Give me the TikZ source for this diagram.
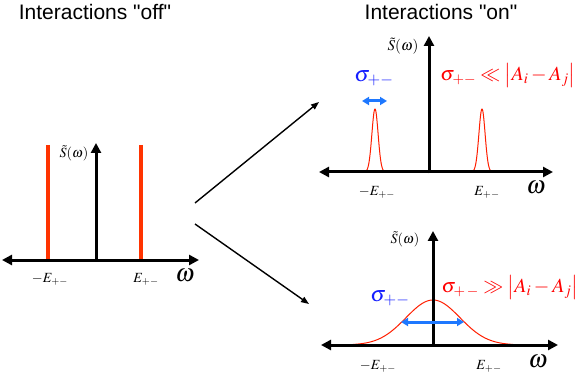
\documentclass[tikz,border=0pt]{standalone}
\usepackage{mathptmx}
\usepackage[no-math]{fontspec}
\newfontfamily\arial{Liberation Sans}
\usetikzlibrary{arrows.meta}
\definecolor{linered}{RGB}{255,51,0}
\definecolor{curvered}{RGB}{255,30,0}
\definecolor{txtblue}{RGB}{20,30,255}
\definecolor{arrblue}{RGB}{30,120,255}
\tikzset{
  every node/.style={inner sep=0pt},
  axis/.style={line width=3pt,-{Triangle[length=10pt,width=10pt]}},
  daxis/.style={line width=3pt,{Triangle[length=10pt,width=10pt]}-{Triangle[length=10pt,width=10pt]}},
  title/.style={font=\arial\fontsize{21}{24}\selectfont},
  lab/.style={font=\fontsize{14}{16}\selectfont},
  labm/.style={font=\fontsize{15}{17}\selectfont},
  omeg/.style={font=\fontsize{25}{28}\selectfont},
  sig/.style={font=\fontsize{22}{24}\selectfont,text=txtblue},
  rel/.style={font=\fontsize{20}{23}\selectfont,text=red},
  flow/.style={line width=1.4pt,-{Triangle[length=8pt,width=6pt]}},
  width/.style={line width=3pt,arrblue,{Triangle[length=7pt,width=8pt]}-{Triangle[length=7pt,width=8pt]}},
  spike/.style={line width=3.5pt,linered},
  curve/.style={line width=1pt,curvered}
}
\begin{document}
\begin{tikzpicture}[x=1pt,y=-1pt]
\useasboundingbox (0,0) rectangle (581,374);
% titles
\node[title] (t1) at (95,12) {Interactions "off"};
\node[title] (t2) at (441,12) {Interactions "on"};
% ---------- left panel
\coordinate (la) at (2,260);
\coordinate (lb) at (199,260);
\coordinate (lo) at (96,261.5);
\coordinate (lt) at (96,143);
\draw[spike] (48,145) -- (48,260);
\draw[spike] (141,145) -- (141,260);
\draw[daxis] (la) -- (lb);
\draw[axis] (lo) -- (lt);
\node[lab] (ls) at (74,153) {$\tilde S(\omega)$};
\node[lab] (lm) at (50,279) {$-E_{+-}$};
\node[lab] (lp) at (146,279) {$E_{+-}$};
\node[omeg] (lw) at (185,276) {$\omega$};
% ---------- flow arrows
\coordinate (f1) at (195,203);
\coordinate (f2) at (319,102);
\coordinate (f3) at (195,224);
\coordinate (f4) at (309,304);
\draw[flow] (f1) -- (f2);
\draw[flow] (f3) -- (f4);
% ---------- top right panel
\coordinate (ta) at (319,172);
\coordinate (tb) at (553,172);
\coordinate (to) at (429,173.5);
\coordinate (tt) at (429,36);
\draw[curve] plot[domain=-9:9,samples=60] (375+\x,{172-63*exp(-0.5*((\x/3.1)^2))});
\draw[curve] plot[domain=-9:9,samples=60] (482+\x,{172-63*exp(-0.5*((\x/3.1)^2))});
\draw[daxis] (ta) -- (tb);
\draw[axis] (to) -- (tt);
\node[labm] (ts) at (403,46) {$\tilde S(\omega)$};
\node[sig] (tsig) at (374,78) {$\sigma_{+-}$};
\coordinate (tw1) at (362,101);
\coordinate (tw2) at (387,101);
\draw[width] (tw1) -- (tw2);
\node[rel] (trel) at (508,76) {$\sigma_{+-}\ll\left|A_i-A_j\right|$};
\node[lab] (tm) at (377,192) {$-E_{+-}$};
\node[lab] (tp) at (487,192) {$E_{+-}$};
\node[omeg] (tw) at (536,188) {$\omega$};
% ---------- bottom right panel
\coordinate (ba) at (321,345);
\coordinate (bb) at (558,345);
\coordinate (bo) at (433,346.5);
\coordinate (bt) at (433,231);
\draw[curve] plot[domain=-80:80,samples=100] (433+\x,{345-45*exp(-0.5*((\x/27)^2))});
\draw[daxis] (ba) -- (bb);
\draw[axis] (bo) -- (bt);
\node[lab] (bs) at (405,239) {$\tilde S(\omega)$};
\node[sig] (bsig) at (390,298) {$\sigma_{+-}$};
\coordinate (bw1) at (401,322);
\coordinate (bw2) at (464,322);
\draw[width] (bw1) -- (bw2);
\node[rel] (brel) at (510,287) {$\sigma_{+\,-}\gg\left|A_i-A_j\right|$};
\node[lab] (bm) at (378,366) {$-E_{+-}$};
\node[lab] (bp) at (489,366) {$E_{+-}$};
\node[omeg] (bwl) at (538,362) {$\omega$};
\end{tikzpicture}
\end{document}
